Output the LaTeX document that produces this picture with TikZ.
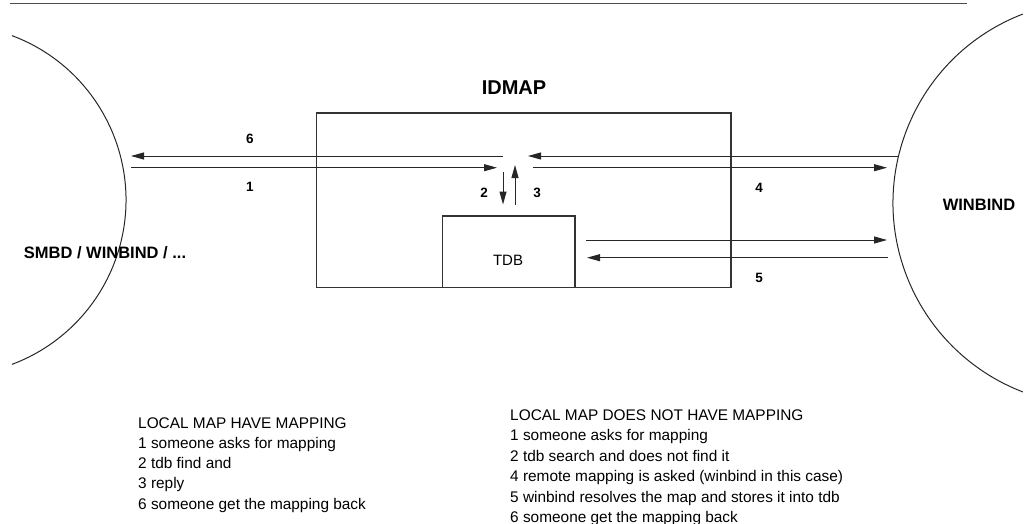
\documentclass[tikz,border=0pt]{standalone}
\usepackage{fontspec}
\setmainfont{Liberation Sans}
\usetikzlibrary{arrows.meta}
\begin{document}
\begin{tikzpicture}[x=1pt,y=-1pt,
  line/.style={draw=black!85,line width=1pt},
  box/.style={draw=black!80,line width=1.2pt,inner sep=0pt,outer sep=0pt},
  arr/.style={line,-{Triangle[length=13pt,width=7pt]}},
  num/.style={font=\fontsize{13.5}{15}\selectfont\bfseries,inner sep=0pt},
  big/.style={font=\fontsize{16.5}{18}\selectfont\bfseries,inner sep=0pt},
  bt/.style={font=\fontsize{15.4}{18}\selectfont,inner sep=0pt,text=black}]
\useasboundingbox (0,0) rectangle (1025,524);
% top rule
\coordinate (rl) at (10,3.5);
\coordinate (rr) at (967,3.5);
\draw[draw=black!70,line width=1.5pt] (rl) -- (rr);
% side arcs
\coordinate (lc) at (-49.5,200);
\coordinate (rc) at (1095.4,203);
\draw[line] (lc) ++(69.5:175.5pt) arc[start angle=69.5,end angle=-69.5,radius=175.5pt];
\draw[line] (rc) ++(111:202.4pt) arc[start angle=111,end angle=249,radius=202.4pt];
% boxes
\node[box,minimum width=414.3pt,minimum height=174.7pt,anchor=north west] (idmap) at (316.7,113) {};
\node[box,minimum width=132.3pt,minimum height=71.7pt,anchor=north west] (tdb) at (442.7,216) {};
\node[font=\fontsize{15}{18}\selectfont,inner sep=0pt] (tdbl) at (508,260) {TDB};
\node[font=\fontsize{20}{22}\selectfont\bfseries,inner sep=0pt] (idmapl) at (514,88) {IDMAP};
\node[big] (smbd) at (105,253) {SMBD / WINBIND / ...};
\node[big] (winb) at (979,205) {WINBIND};
% arrow end points
\coordinate (a6s) at (503,156);  \coordinate (a6e) at (131,156);
\coordinate (a1s) at (131,167.7); \coordinate (a1e) at (497,167.7);
\coordinate (r6s) at (898,156);  \coordinate (r6e) at (528,156);
\coordinate (a4s) at (533,167.7); \coordinate (a4e) at (887,167.7);
\coordinate (a2s) at (503,172);  \coordinate (a2e) at (503,204.5);
\coordinate (a3s) at (515,205);  \coordinate (a3e) at (515,165);
\coordinate (t5s) at (586,240);  \coordinate (t5e) at (887,240);
\coordinate (w5s) at (888,257.7); \coordinate (w5e) at (587,257.7);
\draw[arr] (a6s) -- (a6e);
\draw[arr] (a1s) -- (a1e);
\draw[arr] (r6s) -- (r6e);
\draw[arr] (a4s) -- (a4e);
\draw[arr] (a2s) -- (a2e);
\draw[arr] (a3s) -- (a3e);
\draw[arr] (t5s) -- (t5e);
\draw[arr] (w5s) -- (w5e);
% labels
\node[num] (n6) at (250,139) {6};
\node[num] (n1) at (250,187) {1};
\node[num] (n2) at (484,193) {2};
\node[num] (n3) at (537,193) {3};
\node[num] (n4) at (759,188) {4};
\node[num] (n5) at (759,278) {5};
% legends
\foreach \t [count=\i] in {LOCAL MAP HAVE MAPPING,1 someone asks for mapping,2 tdb find and,3 reply,6 someone get the mapping back}
  \node[bt,anchor=base west] (la\i) at (138,{428+20.3*(\i-1)}) {\t};
\foreach \t [count=\i] in {LOCAL MAP DOES NOT HAVE MAPPING,1 someone asks for mapping,2 tdb search and does not find it,4 remote mapping is asked (winbind in this case),5 winbind resolves the map and stores it into tdb,6 someone get the mapping back}
  \node[bt,anchor=base west] (lb\i) at (510,{420.5+20.4*(\i-1)}) {\t};
\end{tikzpicture}
\end{document}
